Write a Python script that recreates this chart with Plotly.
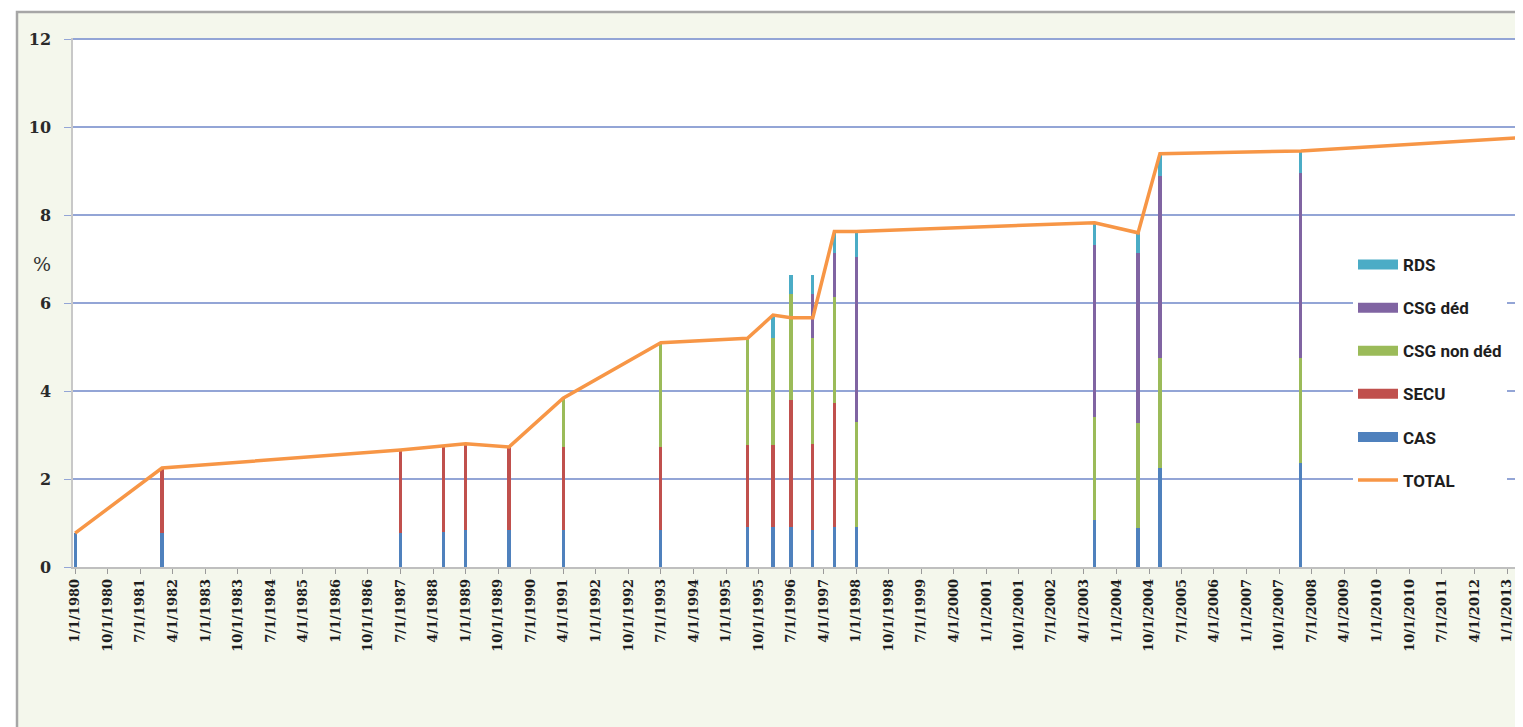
import plotly.graph_objects as go

# ---- data ----
DATES = ['1980-01-01', '1982-01-01', '1987-07-01', '1988-07-01', '1989-01-01',
         '1990-01-01', '1991-04-01', '1993-07-01', '1995-07-01', '1996-02-01',
         '1996-07-01', '1997-01-01', '1997-07-01', '1998-01-01', '2003-07-01',
         '2004-07-01', '2005-01-01', '2008-04-01', '2013-04-01']

CAS = [0.77, 0.77, 0.77, 0.80, 0.84, 0.84, 0.84, 0.84, 0.91, 0.91,
       0.90, 0.85, 0.90, 0.91, 1.07, 0.89, 2.25, 2.36, 2.36]
SECU = [0, 1.48, 1.89, 1.96, 1.96, 1.89, 1.90, 1.90, 1.87, 1.87,
        2.90, 1.95, 2.83, 0, 0, 0, 0, 0, 0]
CSG_NON_DED = [0, 0, 0, 0, 0, 0, 1.10, 2.36, 2.42, 2.42,
               2.40, 2.40, 2.40, 2.39, 2.35, 2.38, 2.50, 2.40, 2.50]
CSG_DED = [0, 0, 0, 0, 0, 0, 0, 0, 0, 0,
           0, 1.00, 1.00, 3.76, 3.91, 3.87, 4.15, 4.20, 4.40]
RDS = [0, 0, 0, 0, 0, 0, 0, 0, 0, 0.53,
       0.45, 0.45, 0.50, 0.57, 0.50, 0.46, 0.50, 0.50, 0.50]
TOTAL = [0.77, 2.25, 2.66, 2.76, 2.80, 2.73, 3.84, 5.10, 5.20, 5.73,
         5.67, 5.67, 7.63, 7.63, 7.83, 7.60, 9.40, 9.46, 9.76]

TICK_LABELS = ['1/1/1980', '10/1/1980', '7/1/1981', '4/1/1982', '1/1/1983', '10/1/1983',
               '7/1/1984', '4/1/1985', '1/1/1986', '10/1/1986', '7/1/1987', '4/1/1988',
               '1/1/1989', '10/1/1989', '7/1/1990', '4/1/1991', '1/1/1992', '10/1/1992',
               '7/1/1993', '4/1/1994', '1/1/1995', '10/1/1995', '7/1/1996', '4/1/1997',
               '1/1/1998', '10/1/1998', '7/1/1999', '4/1/2000', '1/1/2001', '10/1/2001',
               '7/1/2002', '4/1/2003', '1/1/2004', '10/1/2004', '7/1/2005', '4/1/2006',
               '1/1/2007', '10/1/2007', '7/1/2008', '4/1/2009', '1/1/2010', '10/1/2010',
               '7/1/2011', '4/1/2012', '1/1/2013']
Y_TICKS = [0, 2, 4, 6, 8, 10, 12]

SERIES = [('CAS', CAS, '#4F81BD'),
          ('SECU', SECU, '#C0504D'),
          ('CSG non déd', CSG_NON_DED, '#9BBB59'),
          ('CSG déd', CSG_DED, '#8064A2'),
          ('RDS', RDS, '#4BACC6')]
LEGEND_ORDER = ['RDS', 'CSG déd', 'CSG non déd', 'SECU', 'CAS']


def to_iso(lbl):
    m, d, y = lbl.split('/')
    return f'{int(y):04d}-{int(m):02d}-{int(d):02d}'


tick_vals = [to_iso(t) for t in TICK_LABELS]

# page body has an 8px margin: work in screen coordinates and offset
OFF = 8
W, H = 1523 - OFF, 727 - OFF
PL, PR, PT, PB = 73, 1520, 38, 567          # plot area on screen
ML, MT = PL - OFF, PT - OFF
MR, MB = W - (PR - OFF), H - (PB - OFF)
PW, PH = PR - PL, PB - PT
Y_MAX = 12.03


def px(xs):
    return (xs - PL) / PW


def py(ys):
    return (PB - ys) / PH


fig = go.Figure()

colors = {n: c for n, _, c in SERIES}
# legend entries (wide swatches)
for name in LEGEND_ORDER:
    fig.add_trace(go.Scatter(x=[None], y=[None], mode='lines', name=name,
                             legendgroup=name,
                             line=dict(color=colors[name], width=10),
                             hoverinfo='skip'))

bar_w = 27 * 24 * 3600 * 1000
for name, vals, color in SERIES:
    fig.add_trace(go.Bar(x=DATES, y=vals, name=name, legendgroup=name,
                         showlegend=False, width=bar_w,
                         marker=dict(color=color, line=dict(width=0))))

fig.add_trace(go.Scatter(x=DATES, y=TOTAL, mode='lines', name='TOTAL',
                         legendgroup='TOTAL',
                         line=dict(color='#F79646', width=3.5)))

grid_c = '#93A5D6'
fig.update_layout(
    width=W, height=H,
    margin=dict(l=ML, r=MR, t=MT, b=MB),
    barmode='stack', bargap=0,
    paper_bgcolor='#F4F7EC',
    plot_bgcolor='#FFFFFF',
    showlegend=True,
    legend=dict(x=px(1353), y=py(247), xanchor='left', yanchor='top',
                bgcolor='#FFFFFF', borderwidth=0,
                traceorder='grouped', tracegroupgap=18, itemwidth=40,
                font=dict(family='Liberation Sans Narrow, Roboto, sans-serif',
                          size=17, color='#1E1E1E', weight='bold')),
    xaxis=dict(type='date', range=['1979-12-14', '2013-04-20'],
               tickmode='array', tickvals=tick_vals, ticktext=TICK_LABELS,
               tickangle=-90, showgrid=False,
               showline=True, linecolor='#BFBFBF', linewidth=1.5,
               ticks='outside', ticklen=5, tickcolor='#9A9A9A',
               tickfont=dict(family='DejaVu Serif', size=13, color='#1E1E1E',
                             weight='bold'),
               zeroline=False, fixedrange=True),
    yaxis=dict(range=[0, Y_MAX], tickvals=Y_TICKS,
               showgrid=True, gridcolor=grid_c, gridwidth=1.5,
               showline=True, linecolor='#C8C8C8', linewidth=1.5,
               ticks='outside', ticklen=7, tickcolor=grid_c,
               ticklabelstandoff=10,
               tickfont=dict(family='DejaVu Serif', size=16, color='#2A2A2A',
                             weight='bold'),
               zeroline=False, fixedrange=True),
    shapes=[
        # white strips outside the chart frame
        dict(type='rect', xref='paper', yref='paper', layer='below',
             x0=px(-20), x1=px(17), y0=py(800), y1=py(-20),
             fillcolor='#FFFFFF', line=dict(width=0)),
        dict(type='rect', xref='paper', yref='paper', layer='below',
             x0=px(-20), x1=px(1600), y0=py(12), y1=py(-20),
             fillcolor='#FFFFFF', line=dict(width=0)),
        # chart frame
        dict(type='rect', xref='paper', yref='paper', layer='above',
             x0=px(17), x1=px(1560), y0=py(780), y1=py(12),
             fillcolor='rgba(0,0,0,0)', line=dict(color='#A6A6A6', width=2.5)),
    ],
    annotations=[
        dict(text='%', xref='paper', yref='paper', x=px(42), y=py(264),
             xanchor='center', yanchor='middle', showarrow=False,
             font=dict(family='DejaVu Serif', size=19, color='#333333')),
    ],
)

fig.write_html('out.html')
